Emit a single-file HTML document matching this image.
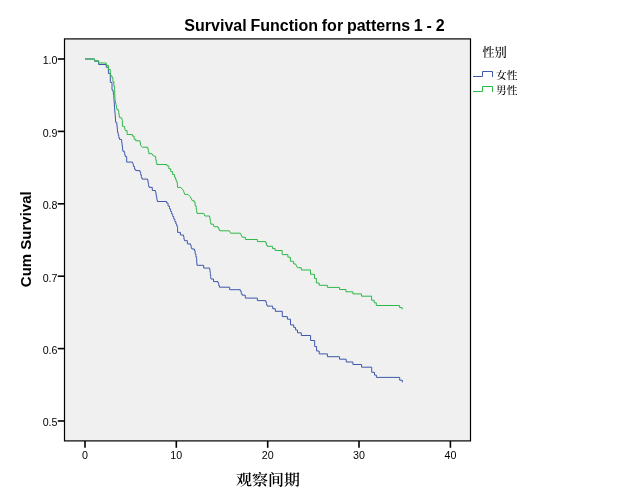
<!DOCTYPE html>
<html lang="zh">
<head>
<meta charset="utf-8">
<title>Survival Function for patterns 1 - 2</title>
<style>
html,body{margin:0;padding:0;background:#fff;}
body{width:629px;height:504px;overflow:hidden;}
svg{display:block;will-change:transform;}
.lat{font-family:"Liberation Sans",sans-serif;}
.cjk{font-family:"Liberation Serif","Noto Serif CJK SC",serif;}
</style>
</head>
<body>
<svg width="629" height="504" viewBox="0 0 629 504">
<rect x="0" y="0" width="629" height="504" fill="#ffffff"/>
<rect x="64.5" y="38.9" width="406" height="402" fill="#f0f0f0" stroke="#000" stroke-width="1.2"/>
<g stroke="#000" stroke-width="1.6">
<line x1="57.8" y1="59.0" x2="64" y2="59.0"/>
<line x1="57.8" y1="131.4" x2="64" y2="131.4"/>
<line x1="57.8" y1="203.8" x2="64" y2="203.8"/>
<line x1="57.8" y1="276.2" x2="64" y2="276.2"/>
<line x1="57.8" y1="348.6" x2="64" y2="348.6"/>
<line x1="57.8" y1="421.0" x2="64" y2="421.0"/>
<line x1="85.0" y1="441" x2="85.0" y2="447.8"/>
<line x1="176.3" y1="441" x2="176.3" y2="447.8"/>
<line x1="267.7" y1="441" x2="267.7" y2="447.8"/>
<line x1="359.0" y1="441" x2="359.0" y2="447.8"/>
<line x1="450.4" y1="441" x2="450.4" y2="447.8"/>
</g>
<g class="lat" font-size="10.67px" fill="#000">
<text x="57.5" y="64.3" text-anchor="end">1.0</text>
<text x="57.5" y="136.7" text-anchor="end">0.9</text>
<text x="57.5" y="209.1" text-anchor="end">0.8</text>
<text x="57.5" y="281.5" text-anchor="end">0.7</text>
<text x="57.5" y="353.9" text-anchor="end">0.6</text>
<text x="57.5" y="426.3" text-anchor="end">0.5</text>
<text x="85.0" y="459" text-anchor="middle">0</text>
<text x="176.3" y="459" text-anchor="middle">10</text>
<text x="267.7" y="459" text-anchor="middle">20</text>
<text x="359.0" y="459" text-anchor="middle">30</text>
<text x="450.4" y="459" text-anchor="middle">40</text>
</g>
<path d="M85,59 H94.5 V61.2 H98.6 V64.5 H106.2 V67.2 H108.4 V73.4 H110.3 V82.4 H112 V90 H112.9 V91.42 H113.35 V92.85 V94.28 H113.80 V95.70 L114.5,107.2 L115.1,113.9 L115.7,122.4 H116.7 L117.5,130.9 V132.32 H118.17 V133.73 V135.15 H118.83 V136.57 V137.98 H119.50 V139.40 H121.5 L122.2,145 L122.9,151.3 H124.3 V152.60 H124.80 V153.90 V155.20 H125.30 V156.50 H126.7 V162.1 H132.5 L133.4,165.1 V166.47 H134.55 V167.85 V169.22 H135.70 V170.60 H139.9 V172.02 H140.63 V173.43 V174.85 H141.37 V176.27 V177.68 H142.10 V179.10 H147.6 V180.48 H148.10 V181.87 V183.25 H148.60 V184.63 V186.02 H149.10 V187.40 H152.3 V190.5 H155.4 V191.88 H155.90 V193.25 V194.62 H156.40 V196.00 V197.38 H156.90 V198.75 V200.12 H157.40 V201.50 H166.6 V203.03 H168.05 V204.55 V206.07 H169.50 V207.60 V208.88 H170.57 V210.17 V211.45 H171.63 V212.73 V214.02 H172.70 V215.30 V216.57 H173.77 V217.83 V219.10 H174.83 V220.37 V221.63 H175.90 V222.90 V224.03 H176.75 V225.15 V226.28 H177.60 V227.40 V232.4 H180.4 V235 H183.5 V236.43 H183.95 V237.85 V239.27 H184.40 V240.70 H187.4 V243.9 H190.5 V245.18 H191.15 V246.45 V247.72 H191.80 V249.00 H194.4 V250.58 H195.13 V252.17 V253.75 H195.87 V255.33 V256.92 H196.60 V258.50 L197,265.3 H203.7 V268.1 H209.7 V269.46 H210.02 V270.83 V272.19 H210.35 V273.55 V274.91 H210.68 V276.27 V277.64 H211.00 V279.00 H213.5 V281.6 H218 V283.00 H218.75 V284.40 V285.80 H219.50 V287.20 H229.7 V289.7 H240.3 V291.07 H241.25 V292.45 V293.82 H242.20 V295.20 H245.3 V298.1 H257.4 V300.6 H265.7 V301.98 H266.45 V303.35 V304.73 H267.20 V306.10 H272.7 V308.7 H275.3 V311.3 H282.3 V316.6 H287.4 V319.2 H290.5 V324.9 H293.7 V327.4 H295.6 V330 H297.5 V332.8 H301.3 V335.5 H310.6 V340.5 H314.7 V346.5 H316.6 V351 H319.2 V353.9 H327.4 V356.7 H339.5 V359.2 H346.2 V362 H352.9 V364.5 H361.6 V367.2 H371.7 V372.3 H374.5 V375.1 H376.4 V377.4 H399.7 V380.2 H402.3 V382.3" fill="none" stroke="#3e58ac" stroke-width="1"/>
<path d="M85,59 H94.5 V60.7 H98.6 V63 H106.2 V65.3 H108.4 V69.6 H110.3 V75.8 H112 V77.7 H112.9 V81.5 H113.9 V86.3 H114.5 L115,99.5 V100.70 H115.50 V101.90 V103.10 H116.00 V104.30 V105.62 H116.50 V106.95 V108.27 H117.00 V109.60 H118.3 V110.95 H118.73 V112.30 V113.65 H119.17 V115.00 V116.35 H119.60 V117.70 H121.5 L122.4,120.5 V126.3 H124.3 L125.3,130.6 H127.1 V134.5 H132.4 V136.07 H134.10 V137.65 V139.23 H135.80 V140.80 H140 L140.7,145.6 L142.4,147.2 H147.7 V148.82 H148.30 V150.45 V152.07 H148.90 V153.70 H152 L153.4,156 H155.3 V157.42 H155.83 V158.83 V160.25 H156.37 V161.67 V163.08 H156.90 V164.50 H166.9 V165.93 H168.80 V167.35 V168.77 H170.70 V170.20 V171.62 H172.60 V173.05 V174.47 H174.50 V175.90 V177.07 H175.43 V178.23 V179.40 H176.37 V180.57 V181.73 H177.30 V182.90 L177.5,187.4 H180.9 L183.4,190.5 L184.7,194.4 H187.9 L190.4,196.9 L192.3,200.7 H194.2 V202.45 H195.20 V204.20 V205.95 H196.20 V207.70 V209.12 H196.60 V210.55 V211.97 H197.00 V213.40 H203.8 L204.9,216 H209.6 V217.37 H210.03 V218.73 V220.10 H210.47 V221.47 V222.83 H210.90 V224.20 H213.4 L214,226.7 H217.9 V227.72 H218.85 V228.75 V229.78 H219.80 V230.80 H229.3 L230.6,233.2 H240.4 L242.1,237.2 H245.3 V239.5 H257.4 V241.6 H265.6 V242.78 H266.40 V243.95 V245.12 H267.20 V246.30 H272.6 V248.6 H275.2 V250.5 H282.2 V254.6 H287.9 V257.2 H290.4 V261.3 H293.6 V263.9 H295.5 L297.4,267.7 H301.3 V270 H310.5 V274.3 H314.5 V278.5 H316.4 V283 H319.2 V285.3 H327.4 V287.4 H339.5 V289.5 H346 V291.8 H352.9 V293.9 H361.5 V296.2 H371.6 V300.3 H374.2 V302.8 H376.3 V305.5 H399.6 V307.6 H402.2 V309.3" fill="none" stroke="#2eb848" stroke-width="1"/>
<text class="lat" x="314.5" y="30.7" font-size="16px" font-weight="bold" word-spacing="-0.63px" text-anchor="middle" fill="#000">Survival Function for patterns 1 - 2</text>
<text class="lat" transform="translate(30.6,239.2) rotate(-90)" font-size="15px" font-weight="bold" text-anchor="middle" fill="#000">Cum Survival</text>
<text class="cjk" transform="translate(268,485.3) scale(1,0.9)" font-size="16px" font-weight="600" text-anchor="middle" fill="#000">观察间期</text>
<text class="cjk" x="482.3" y="57.3" font-size="12.3px" font-weight="500" fill="#000">性别</text>
<path d="M473,76.5 H482.5 V71.5 H492.5 V77" fill="none" stroke="#3e58ac" stroke-width="1"/>
<path d="M473,91.5 H482.5 V86.5 H492.5 V92" fill="none" stroke="#2eb848" stroke-width="1"/>
<text class="cjk" x="496" y="79.2" font-size="10.67px" font-weight="500" fill="#000">女性</text>
<text class="cjk" x="496" y="94.2" font-size="10.67px" font-weight="500" fill="#000">男性</text>
</svg>
</body>
</html>
